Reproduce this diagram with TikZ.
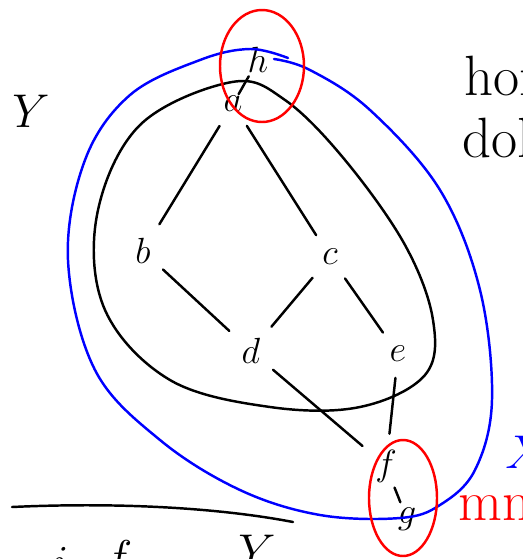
\documentclass[tikz,border=0pt]{standalone}
\usepackage{amsmath,amssymb}
\usetikzlibrary{positioning}
\tikzset{elem/.style={inner sep=1pt, font=\huge},
  hasse/.style={line width=1.4pt, line cap=round, shorten <=8pt, shorten >=8pt},
  blob/.style={line width=1.4pt, line cap=round},
  note/.style={anchor=base west, inner sep=0pt, font=\Huge, scale=1.3},
  smallnote/.style={anchor=base west, inner sep=0pt, font=\huge, scale=1.3}}

\begin{document}
\begin{tikzpicture}[x=0.02cm, y=-0.02cm]
\useasboundingbox (0,0) rectangle (523,559);
\clip (0,0) rectangle (523,559);
% elements of the poset
\node[elem] (a) at (233,104) {$a$};
\node[elem] (h) at (258,60) {$h$};
\node[elem] (b) at (143,251) {$b$};
\node[elem] (c) at (330,257) {$c$};
\node[elem] (d) at (251,351) {$d$};
\node[elem] (e) at (398,354) {$e$};
\node[elem] (f) at (386,466) {$f$};
\node[elem] (g) at (407,519) {$g$};
\node[smallnote] (y) at (12,127) {$Y$};
% edges
\draw[hasse] (a) -- (b);
\draw[hasse] (a) -- (c);
\draw[hasse] (b) -- (d);
\draw[hasse] (c) -- (d);
\draw[hasse] (c) -- (e);
\draw[hasse] (d) -- (f);
\draw[hasse] (e) -- (f);
\draw[hasse, shorten <=2pt, shorten >=2pt] (f) -- (g);
\draw[hasse, shorten <=1pt, shorten >=0pt] (h) -- (a);
% enclosures
\draw[blob] plot[smooth cycle, tension=0.6] coordinates {(232,82) (140,125) (97,215) (105,310) (170,380) (270,407) (360,407) (425,375) (433,320) (405,245) (345,160) (285,100)};
\draw[blob, blue] plot[smooth, tension=0.6] coordinates {(288,58) (250,49) (200,60) (130,95) (85,160) (68,260) (95,370) (160,440) (240,490) (320,515) (400,518) (440,505) (475,470) (492,400) (480,290) (440,190) (370,110) (310,70) (274,59)};
\draw[blob, red] (262,66) ellipse [x radius=42, y radius=56];
\draw[blob, red] (403,498) ellipse [x radius=34, y radius=58];
\draw[blob] (12,507) .. controls (120,502) and (220,508) .. (293,522);
% side notes
\node[note] (hom) at (464,95) {hom};
\node[note] (dol) at (462,157) {dol};
\node[smallnote, text=blue] (x) at (505,468) {$X$};
\node[note, text=red] (mne) at (458,520) {mne};
% bottom line of text
\node[smallnote] (i) at (52,578) {$i$};
\node[smallnote] (fb) at (104,573) {$f$};
\node[smallnote] (yb) at (238,567) {$Y$};
\end{tikzpicture}
\end{document}
